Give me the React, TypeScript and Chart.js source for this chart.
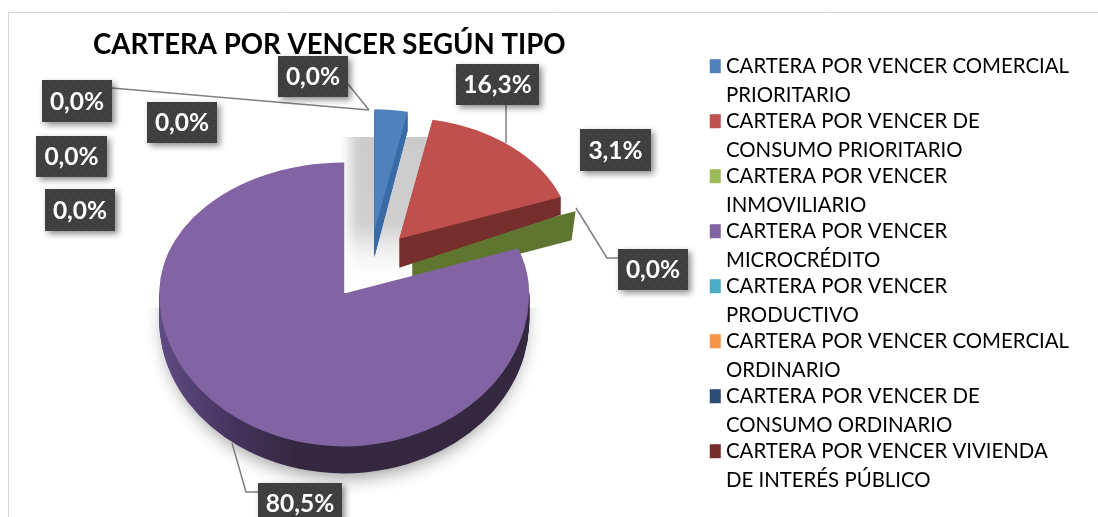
import React, { useEffect, useRef } from "react";
import { Chart, registerables } from "chart.js";

Chart.register(...registerables);

const titleText = "CARTERA POR VENCER SEGÚN TIPO";
const categories: string[][] = [
  ["CARTERA POR VENCER COMERCIAL", "PRIORITARIO"],
  ["CARTERA POR VENCER DE", "CONSUMO PRIORITARIO"],
  ["CARTERA POR VENCER", "INMOVILIARIO"],
  ["CARTERA POR VENCER", "MICROCRÉDITO"],
  ["CARTERA POR VENCER", "PRODUCTIVO"],
  ["CARTERA POR VENCER COMERCIAL", "ORDINARIO"],
  ["CARTERA POR VENCER DE", "CONSUMO ORDINARIO"],
  ["CARTERA POR VENCER VIVIENDA", "DE INTERÉS PÚBLICO"],
];
const shares = [3.1, 16.3, 0, 80.5, 0, 0, 0, 0];
const faceColors = ["#4f81bd", "#c0504d", "#9bbb59", "#8264a4", "#4bacc6", "#f79646", "#2c4d75", "#772c2a"];
const wallColors = ["#3a6ca6", "#772f2e", "#5f7530", "#33283f", "#2f7f94", "#b66d2f", "#1d3450", "#4f1c1b"];

// Data label boxes: [left, top, width, height, index of the share shown]
const labelBoxes: number[][] = [
  [278, 56, 70, 41, 2],
  [456, 64, 83, 41, 1],
  [580, 129, 71, 42, 0],
  [618, 249, 70, 41, 2],
  [258, 483, 84, 41, 3],
  [42, 80, 70, 42, 4],
  [147, 102, 70, 41, 5],
  [36, 136, 71, 41, 6],
  [45, 189, 70, 42, 7],
];
const leaderLines: number[][][] = [
  [[112, 88], [369, 110]],
  [[348, 84], [369, 110]],
  [[506, 105], [506, 143]],
  [[576, 208], [607, 258], [618, 258]],
  [[232, 443], [246, 492], [258, 492]],
];

const CX = 370;
const CY = 265;
const EXPLODE = 45;
const RADIUS = 185;
const TILT = 0.77;
const DEPTH = 27;
const FAR = { sx: 0.93, sy: 0.655 };
const NEAR_UP = 0.708;
const NEAR_DOWN = 0.827;
const TAPER_FIRST = 0.009;
const TAPER_SECOND = 0.0024;

function apexOf(el: any) {
  const mid = (el.startAngle + el.endAngle) / 2;
  return {
    px: CX + Math.cos(mid) * EXPLODE,
    py: CY + Math.sin(mid) * EXPLODE * TILT,
    k: RADIUS / el.outerRadius,
  };
}

function drawSlice(
  ctx: CanvasRenderingContext2D,
  el: any,
  sx: number,
  sy: number,
  shift: number,
  fill?: any,
  taper = 0
) {
  const a = apexOf(el);
  const saved = el.options;
  if (fill) el.options = { ...saved, backgroundColor: fill, borderWidth: 0 };
  ctx.save();
  ctx.translate(a.px, a.py + shift);
  ctx.transform(1, -shift * taper, 0, 1, 0, 0);
  ctx.scale(sx * a.k, sy * a.k);
  ctx.translate(-el.x, -el.y);
  el.draw(ctx);
  ctx.restore();
  el.options = saved;
}

function clipY(ctx: CanvasRenderingContext2D, from: number, to: number, w: number) {
  ctx.beginPath();
  ctx.rect(0, from, w, to - from);
  ctx.clip();
}

const piePlugin = {
  id: "tiltedPie",
  beforeDatasetsDraw(chart: any) {
    const ctx: CanvasRenderingContext2D = chart.ctx;
    const arcs = chart.getDatasetMeta(0).data;
    const W = chart.width;
    const H = chart.height;

    // soft grey shadow behind the separated slices
    ctx.save();
    clipY(ctx, 137, H, W);
    ctx.filter = "blur(6px)";
    const g = ctx.createLinearGradient(0, 137, 0, 285);
    g.addColorStop(0, "#cbcbcb");
    g.addColorStop(0.6, "#cfcfcf");
    g.addColorStop(1, "rgba(255,255,255,0)");
    ctx.fillStyle = g;
    ctx.fillRect(350, 120, 90, 165);
    ctx.restore();

    // first slice
    for (let d = DEPTH; d > 0; d--) drawSlice(ctx, arcs[0], FAR.sx, FAR.sy, d, wallColors[0], TAPER_FIRST);
    drawSlice(ctx, arcs[0], FAR.sx, FAR.sy, 0);

    // zero-width slice: only its cut wall shows
    const z = arcs[2];
    const a = apexOf(z);
    const ex = a.px + Math.cos(z.startAngle) * RADIUS * 0.94;
    const ey = a.py + Math.sin(z.startAngle) * RADIUS * 0.66;
    ctx.save();
    ctx.fillStyle = wallColors[2];
    ctx.beginPath();
    ctx.moveTo(a.px, a.py);
    ctx.lineTo(ex, ey);
    ctx.lineTo(ex - 4, ey + DEPTH + 2);
    ctx.lineTo(a.px, a.py + DEPTH + 2);
    ctx.closePath();
    ctx.fill();
    ctx.restore();

    // second slice
    for (let d = DEPTH + 2; d > 0; d--) drawSlice(ctx, arcs[1], FAR.sx, FAR.sy, d, wallColors[1], TAPER_SECOND);
    drawSlice(ctx, arcs[1], FAR.sx, FAR.sy, 0);

    // large slice: upper and lower halves have their own foreshortening
    const big = arcs[3];
    const b = apexOf(big);
    const wall = ctx.createLinearGradient(158, 0, 345, 0);
    wall.addColorStop(0, "#64508a");
    wall.addColorStop(0.6, "#44325c");
    wall.addColorStop(1, wallColors[3]);
    ctx.save();
    clipY(ctx, b.py + 14, H, W);
    ctx.shadowColor = "rgba(0,0,0,0.4)";
    ctx.shadowBlur = 18;
    ctx.shadowOffsetY = 5;
    drawSlice(ctx, big, 0.975, NEAR_DOWN, DEPTH - 1, wall);
    ctx.restore();
    ctx.save();
    clipY(ctx, b.py, H, W);
    for (let d = DEPTH; d > 0; d--) drawSlice(ctx, big, 1, NEAR_DOWN, d, wall);
    drawSlice(ctx, big, 1, NEAR_DOWN, 0);
    ctx.restore();
    ctx.save();
    clipY(ctx, 0, b.py + 0.5, W);
    drawSlice(ctx, big, 1, NEAR_UP, 0);
    ctx.restore();
    return false;
  },
  afterDraw(chart: any) {
    const ctx: CanvasRenderingContext2D = chart.ctx;

    // legend swatches are wider than the legend's own text gap allows
    ctx.save();
    (chart.legend.legendHitBoxes || []).forEach((box: any, i: number) => {
      ctx.fillStyle = faceColors[i];
      ctx.fillRect(box.left + 8, box.top + 3.2, 6, 14);
    });
    ctx.restore();

    // frame
    ctx.save();
    ctx.strokeStyle = "#d4d4d4";
    ctx.lineWidth = 1;
    ctx.beginPath();
    ctx.moveTo(8.5, chart.height);
    ctx.lineTo(8.5, 12.5);
    ctx.lineTo(chart.width, 12.5);
    ctx.stroke();
    ctx.restore();

    // leader lines
    ctx.save();
    ctx.strokeStyle = "#7f7f7f";
    ctx.lineWidth = 1.5;
    leaderLines.forEach((pts) => {
      ctx.beginPath();
      pts.forEach((p, i) => (i ? ctx.lineTo(p[0], p[1]) : ctx.moveTo(p[0], p[1])));
      ctx.stroke();
    });
    ctx.restore();

    // dotted dark label boxes
    const tile = document.createElement("canvas");
    tile.width = 8;
    tile.height = 8;
    const t = tile.getContext("2d")!;
    t.fillStyle = "#3f3f3f";
    t.fillRect(0, 0, 8, 8);
    t.fillStyle = "#575757";
    t.fillRect(1, 1, 1, 1);
    t.fillRect(5, 5, 1, 1);
    const pattern = ctx.createPattern(tile, "repeat")!;
    labelBoxes.forEach(([x, y, w, h, idx]) => {
      ctx.save();
      ctx.shadowColor = "rgba(0,0,0,0.45)";
      ctx.shadowBlur = 6;
      ctx.shadowOffsetX = 3;
      ctx.shadowOffsetY = 3;
      ctx.fillStyle = pattern;
      ctx.fillRect(x, y, w, h);
      ctx.restore();
      ctx.save();
      ctx.fillStyle = "#ffffff";
      ctx.font = "bold 24.5px Lato";
      ctx.textAlign = "center";
      ctx.textBaseline = "middle";
      ctx.fillText(shares[idx].toFixed(1).replace(".", ",") + "%", x + w / 2, y + h / 2 + 1);
      ctx.restore();
    });
  },
};

export default function App() {
  const ref = useRef<HTMLCanvasElement>(null);
  useEffect(() => {
    const chart = new Chart(ref.current!, {
      type: "pie",
      data: {
        labels: categories as any,
        datasets: [
          {
            data: shares,
            backgroundColor: faceColors,
            borderWidth: 0,
          },
        ],
      },
      options: {
        responsive: false,
        animation: false,
        events: [],
        layout: { padding: { left: 93, top: 26, right: 19, bottom: -12 } },
        plugins: {
          tooltip: { enabled: false },
          title: {
            display: true,
            text: titleText,
            align: "start",
            fullSize: false,
            color: "#000000",
            font: { family: "Lato", size: 27.6, weight: "bold", lineHeight: 1.25 },
            padding: { top: 2, bottom: 0 },
          },
          legend: {
            position: "right",
            align: "center",
            labels: {
              color: "#111111",
              font: { family: "Lato", size: 20.4, lineHeight: 29 / 20.4 },
              boxWidth: 9,
              boxHeight: 14,
              padding: -3,
              generateLabels: () =>
                categories.map((lines, i) => ({
                  text: lines,
                  fillStyle: faceColors[i],
                  strokeStyle: faceColors[i],
                  lineWidth: 0,
                  hidden: false,
                  index: i,
                })),
            },
          },
        },
      } as any,
      plugins: [piePlugin as any],
    });
    return () => chart.destroy();
  }, []);
  return (
    <div style={{ position: "absolute", left: 0, top: 0, width: 1098, height: 517, background: "#ffffff" }}>
      <canvas ref={ref} width={1098} height={517} style={{ display: "block" }} />
    </div>
  );
}
